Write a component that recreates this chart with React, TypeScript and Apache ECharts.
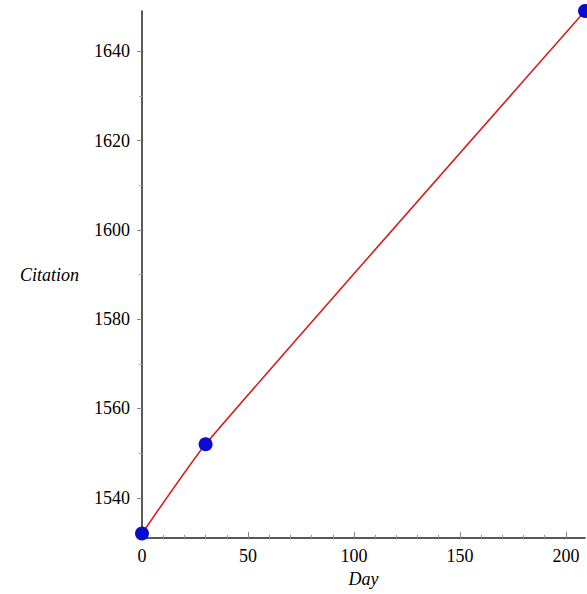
import React, { useEffect, useRef } from "react";
import * as echarts from "echarts";

const days = [0, 30, 209];
const citations = [1532, 1552, 1649];
const xTickLabels = [0, 50, 100, 150, 200];
const xMinorTicks = [10, 20, 30, 40, 60, 70, 80, 90, 110, 120, 130, 140, 160, 170, 180, 190];
const yTickLabels = [1540, 1560, 1580, 1600, 1620, 1640];
const yMinorTicks = [1550, 1570, 1590, 1610, 1630];

const X_MIN = 0;
const X_MAX = 209;
const Y_MIN = 1531;
const Y_MAX = 1649;

const FONT = "'Liberation Serif', 'DejaVu Serif', serif";

export default function App() {
  const ref = useRef<HTMLDivElement>(null);

  useEffect(() => {
    if (!ref.current) return;
    const chart = echarts.init(ref.current, null, { renderer: "svg" });
    const points = days.map((d, i) => [d, citations[i]]);
    chart.setOption({
      animation: false,
      backgroundColor: "#ffffff",
      grid: { left: 142, right: 2, top: 11, bottom: 56, containLabel: false },
      xAxis: [
        {
          type: "value",
          min: X_MIN,
          max: X_MAX,
          position: "bottom",
          name: "Day",
          nameLocation: "middle",
          nameGap: 30,
          nameTextStyle: { fontFamily: FONT, fontStyle: "italic", fontSize: 18, color: "#000" },
          axisLine: { show: true, onZero: false, lineStyle: { color: "#222", width: 1.5 } },
          axisTick: {
            show: true,
            inside: true,
            length: 6,
            customValues: xTickLabels,
            lineStyle: { color: "#888", width: 1 },
          },
          axisLabel: {
            customValues: xTickLabels,
            margin: 9,
            fontFamily: FONT,
            fontSize: 18,
            color: "#000",
            formatter: (v: number) => String(v),
          },
          splitLine: { show: false },
        },
        {
          type: "value",
          min: X_MIN,
          max: X_MAX,
          position: "bottom",
          axisLine: { show: false, onZero: false },
          axisTick: {
            show: true,
            inside: true,
            length: 3,
            customValues: xMinorTicks,
            lineStyle: { color: "#999", width: 1 },
          },
          axisLabel: { show: false },
          splitLine: { show: false },
        },
      ],
      yAxis: [
        {
          type: "value",
          min: Y_MIN,
          max: Y_MAX,
          position: "left",
          name: "Citation",
          nameLocation: "middle",
          nameRotate: 0,
          nameGap: 63,
          nameTextStyle: { fontFamily: FONT, fontStyle: "italic", fontSize: 18, color: "#000", align: "right" },
          axisLine: { show: true, onZero: false, lineStyle: { color: "#222", width: 1.5 } },
          axisTick: {
            show: true,
            inside: false,
            length: 5,
            customValues: yTickLabels,
            lineStyle: { color: "#888", width: 1 },
          },
          axisLabel: {
            customValues: yTickLabels,
            margin: 12,
            fontFamily: FONT,
            fontSize: 18,
            color: "#000",
            formatter: (v: number) => String(v),
          },
          splitLine: { show: false },
        },
        {
          type: "value",
          min: Y_MIN,
          max: Y_MAX,
          position: "left",
          axisLine: { show: false, onZero: false },
          axisTick: {
            show: true,
            inside: false,
            length: 3,
            customValues: yMinorTicks,
            lineStyle: { color: "#aaa", width: 1 },
          },
          axisLabel: { show: false },
          splitLine: { show: false },
        },
      ],
      series: [
        {
          type: "line",
          data: points,
          smooth: 0.15,
          showSymbol: false,
          clip: false,
          lineStyle: { color: "#d42020", width: 1.6 },
          z: 2,
        },
        {
          type: "scatter",
          data: points,
          symbol: "circle",
          symbolSize: 14,
          clip: false,
          itemStyle: { color: "#0a0ad0", opacity: 1 },
          z: 3,
        },
      ],
    });
    return () => chart.dispose();
  }, []);

  return (
    <div
      ref={ref}
      style={{ position: "absolute", left: 0, top: 0, width: 587, height: 594, background: "#fff" }}
    />
  );
}
